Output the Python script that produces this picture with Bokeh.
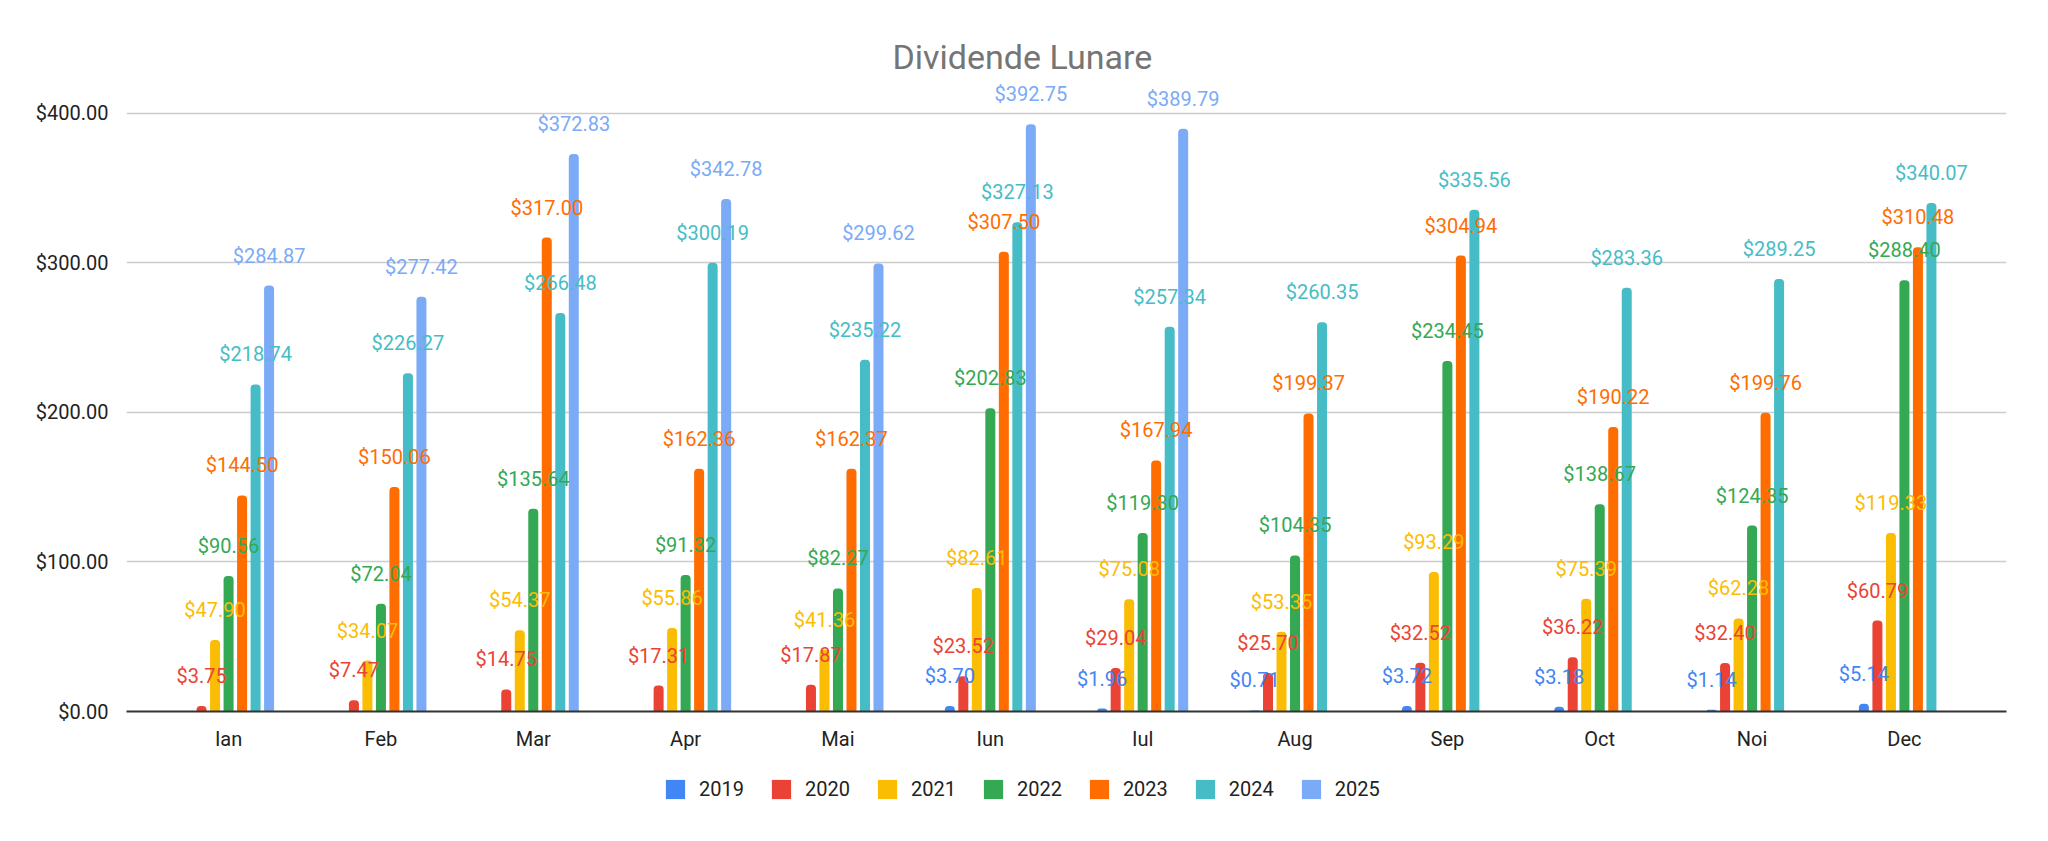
import math
from bokeh.plotting import figure
from bokeh.layouts import column
from bokeh.core.properties import value
from bokeh.models import (ColumnDataSource, FactorRange, Range1d, FixedTicker,
                          NumeralTickFormatter, Legend, LegendItem, LabelSet, Title)
from bokeh.transform import dodge
from bokeh.embed import file_html
from bokeh.resources import INLINE

months = ["Ian", "Feb", "Mar", "Apr", "Mai", "Iun", "Iul", "Aug", "Sep", "Oct", "Noi", "Dec"]
years = ["2019", "2020", "2021", "2022", "2023", "2024", "2025"]
NA = float("nan")
v2019 = [NA, NA, NA, NA, NA, 3.70, 1.96, 0.71, 3.72, 3.18, 1.14, 5.14]
v2020 = [3.75, 7.47, 14.75, 17.31, 17.87, 23.52, 29.04, 25.70, 32.52, 36.22, 32.40, 60.79]
v2021 = [47.90, 34.07, 54.37, 55.86, 41.36, 82.61, 75.08, 53.35, 93.29, 75.39, 62.28, 119.33]
v2022 = [90.56, 72.04, 135.64, 91.32, 82.27, 202.83, 119.30, 104.35, 234.45, 138.67, 124.35, 288.40]
v2023 = [144.50, 150.06, 317.00, 162.36, 162.37, 307.50, 167.94, 199.37, 304.94, 190.22, 199.76, 310.48]
v2024 = [218.74, 226.27, 266.48, 300.19, 235.22, 327.13, 257.34, 260.35, 335.56, 283.36, 289.25, 340.07]
v2025 = [284.87, 277.42, 372.83, 342.78, 299.62, 392.75, 389.79, NA, NA, NA, NA, NA]
series = [v2019, v2020, v2021, v2022, v2023, v2024, v2025]
colors = ["#4285F4", "#EA4335", "#FBBC04", "#34A853", "#FF6D01", "#46BDC6", "#7BAAF7"]
y_ticks = [0, 100, 200, 300, 400]

FONT = "Roboto"
W = 2032

p = figure(width=W, height=753, output_backend="svg", toolbar_location=None,
           x_range=FactorRange(*months, range_padding=0.34 / 12, range_padding_units="percent"),
           y_range=Range1d(0, 422),
           min_border_left=126, min_border_right=26, min_border_top=80, min_border_bottom=33)
p.outline_line_color = None
p.background_fill_color = "white"
p.border_fill_color = "white"

title = Title(text="Dividende Lunare", align="left", offset=766, text_font=FONT,
              text_font_size="34px", text_font_style="normal", text_color="#757575",
              vertical_align="bottom", standoff=8)
p.add_layout(title, "above")

p.xgrid.grid_line_color = None
p.ygrid.grid_line_color = "#cccccc"
p.ygrid.grid_line_width = 1.5
p.ygrid.ticker = FixedTicker(ticks=y_ticks)

p.yaxis.ticker = FixedTicker(ticks=y_ticks)
p.yaxis.formatter = NumeralTickFormatter(format="$0,0.00")
p.yaxis.axis_line_color = None
p.yaxis.major_tick_line_color = None
p.yaxis.minor_tick_line_color = None
p.yaxis.major_label_text_font = FONT
p.yaxis.major_label_text_font_size = "20px"
p.yaxis.major_label_text_color = "#222222"
p.yaxis.major_label_standoff = 12

p.xaxis.axis_line_color = "#333333"
p.xaxis.axis_line_width = 2
p.xaxis.major_tick_line_color = None
p.xaxis.minor_tick_line_color = None
p.xaxis.major_label_text_font = FONT
p.xaxis.major_label_text_font_size = "20px"
p.xaxis.major_label_text_color = "#222222"
p.xaxis.major_label_standoff = 9

step = 13.5 / 152.3
bw = 10.0 / 152.3
label_sets = []
for i, (yr, vals, col) in enumerate(zip(years, series, colors)):
    xs = [m for m, v in zip(months, vals) if not math.isnan(v)]
    ys = [v for v in vals if not math.isnan(v)]
    src = ColumnDataSource(dict(month=xs, value=ys, label=["$%.2f" % v for v in ys]))
    off = (i - 3) * step
    p.vbar(x=dodge("month", off, range=p.x_range), top="value", width=bw, bottom=0,
           source=src, fill_color=col, line_color=None, border_radius=(4, 4, 0, 0))
    label_sets.append(LabelSet(x=dodge("month", off, range=p.x_range), y="value", text="label",
                               source=src, y_offset=30, text_align="center",
                               text_baseline="middle", text_font=value(FONT),
                               text_font_size=value("20px"), text_color=col))

for ls in label_sets:
    p.add_layout(ls)

# legend strip (centered on the page, below the chart)
p2 = figure(width=W, height=72, output_backend="svg", toolbar_location=None,
            x_range=Range1d(0, 1), y_range=Range1d(0, 1),
            x_axis_location=None, y_axis_location=None,
            min_border_left=126, min_border_right=26, min_border_top=0, min_border_bottom=2)
p2.outline_line_color = None
p2.grid.visible = False
items = []
for yr, col in zip(years, colors):
    r = p2.vbar(x=[0.5], top=[0.0], bottom=[0.0], width=0.0, fill_color=col, line_color=None)
    items.append(LegendItem(label=yr, renderers=[r]))
legend = Legend(items=items, orientation="horizontal", location=(537, 22),
                glyph_width=24, glyph_height=24, label_standoff=12, spacing=25,
                label_text_font=FONT, label_text_font_size="20px", label_text_color="#222222",
                border_line_color=None, background_fill_alpha=0, padding=10, margin=0)
p2.add_layout(legend, "center")

open("out.html", "w").write(file_html(column(p, p2, spacing=0), INLINE))
